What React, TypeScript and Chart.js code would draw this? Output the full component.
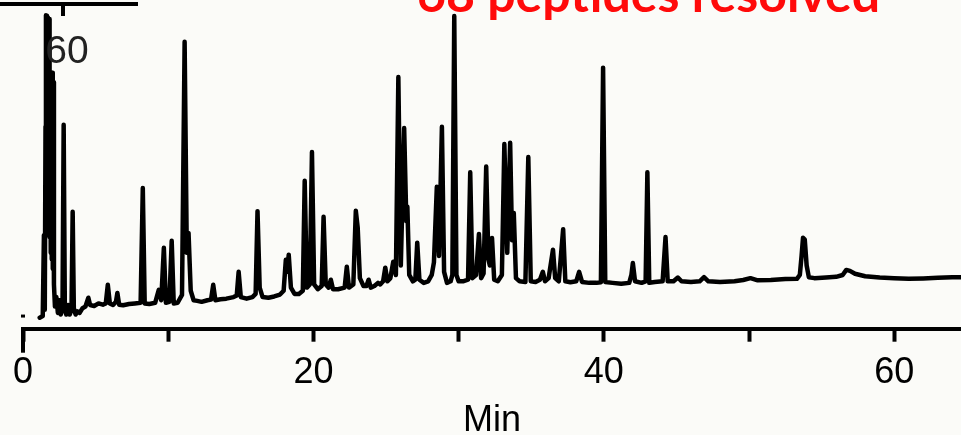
import { useEffect, useRef } from 'react';
import { Chart, registerables } from 'chart.js';

Chart.register(...registerables);

// Retention time (min) / detector signal (arbitrary units)
const traceEarly: [number, number][] = [
  [1.15, -0.5], [1.36, 0], [1.44, 25.6], [1.5, 2], [1.55, 60], [1.58, 95.2], [1.62, 40], [1.65, 95],
  [1.69, 35], [1.72, 94.5], [1.76, 30], [1.79, 94], [1.83, 25], [1.87, 77], [1.91, 20], [1.94, 76],
  [1.98, 18], [2.01, 77], [2.05, 15], [2.08, 74], [2.13, 10], [2.2, 3], [2.3, 6], [2.4, 1], [2.5, 5],
  [2.6, 0.5], [2.72, 2], [2.8, 60.5], [2.88, 3], [2.98, 0.5], [3.1, 3.5], [3.22, 0.5], [3.34, 2],
  [3.42, 33], [3.5, 2.5], [3.62, 0.5], [3.75, 1.5], [3.9, 1], [4.1, 2.5], [4.3, 3], [4.5, 5.8],
  [4.62, 3.5], [4.9, 3.2], [5.2, 4], [5.5, 3.6], [5.7, 4], [5.84, 9.9], [5.98, 4], [6.2, 3.5],
  [6.4, 4.5], [6.5, 7.3], [6.62, 3.6], [6.9, 3.4], [7.3, 3.8], [7.7, 4], [8.1, 4.2], [8.25, 40.5],
  [8.38, 4], [8.7, 3.8], [9.1, 4.2], [9.35, 8.3], [9.52, 5], [9.7, 21.6], [9.84, 4.2], [10.08, 4.5],
  [10.24, 23.8], [10.38, 4], [10.65, 4.2], [10.95, 6.7], [11.13, 86.8], [11.28, 20], [11.4, 26.3],
  [11.55, 8], [11.75, 5], [12.0, 4.8],
];

const traceMiddle: [number, number][] = [
  [12.3, 4.5], [12.7, 5], [12.95, 5.2], [13.1, 9.9], [13.25, 5], [13.6, 5.3], [14.0, 5.5], [14.5, 6],
  [14.72, 6.5], [14.85, 14], [15.0, 6], [15.4, 5.5], [15.8, 6], [16.02, 7], [16.15, 33.2], [16.3, 9],
  [16.5, 6], [16.9, 5.8], [17.3, 6.2], [17.7, 6.8], [17.95, 8], [18.1, 17.8], [18.2, 14], [18.3, 19.4],
  [18.45, 9], [18.7, 7], [19.0, 7], [19.27, 8], [19.4, 42.8], [19.55, 9], [19.75, 10], [19.9, 51.9],
  [20.05, 10], [20.3, 8.5], [20.57, 9.5], [20.7, 31.4], [20.85, 10], [21.05, 9], [21.2, 11.5],
  [21.35, 8.5], [21.7, 8.5], [22.15, 9], [22.3, 15.6], [22.45, 9], [22.75, 10], [22.92, 33.3],
  [23.05, 28], [23.2, 12], [23.45, 9.5], [23.65, 9.5], [23.8, 11.5], [23.95, 9], [24.2, 9.5],
  [24.45, 10.5], [24.6, 10], [24.8, 11], [24.95, 15.3], [25.1, 11], [25.3, 12], [25.5, 17.2],
  [25.68, 13], [25.85, 75.6], [26.02, 16], [26.25, 59.5], [26.4, 30], [26.47, 34.6], [26.6, 13],
  [26.85, 11], [27.02, 11.5], [27.15, 23.2], [27.3, 11.5], [27.6, 10.5], [27.9, 11], [28.15, 13],
  [28.3, 17], [28.5, 40.9], [28.65, 19], [28.85, 59.9], [29.0, 14], [29.2, 10.5], [29.45, 11],
  [29.57, 13], [29.7, 94.9], [29.85, 13], [30.0, 11],
];

const traceLate: [number, number][] = [
  [30.3, 11], [30.65, 11.5], [30.8, 45.5], [30.95, 12], [31.2, 13], [31.4, 26], [31.55, 12], [31.72, 13.5],
  [31.9, 47.3], [32.05, 18], [32.15, 16], [32.3, 24.7], [32.45, 11.5], [32.7, 11], [32.98, 13],
  [33.15, 54.4], [33.35, 20], [33.55, 54.8], [33.68, 24], [33.8, 32.6], [33.95, 12], [34.2, 11],
  [34.6, 10.8], [34.8, 50.3], [34.97, 11], [35.3, 10.8], [35.6, 11.5], [35.8, 14], [35.95, 11],
  [36.2, 12], [36.5, 21], [36.65, 12], [36.9, 11], [37.2, 27.5], [37.35, 11], [37.7, 10.7], [38.1, 11],
  [38.3, 14], [38.5, 10.8], [39.0, 10.5], [39.5, 10.5], [39.8, 10.7], [39.95, 78.6], [40.1, 10.8],
  [40.6, 10.5], [41.2, 10.2], [41.75, 10.5], [41.9, 13], [42.0, 16.8], [42.15, 11], [42.6, 10.5],
  [42.88, 11], [43.0, 45.5], [43.13, 10.5], [43.5, 10.8], [44.05, 11], [44.25, 25], [44.4, 11], [44.8, 11],
];

const traceTail: [number, number][] = [
  [45.1, 12.2], [45.35, 11], [46.0, 10.8], [46.6, 11], [46.9, 12.3], [47.2, 11], [48.0, 10.8], [49.0, 11],
  [49.6, 11.4], [50.1, 12], [50.6, 11.3], [51.5, 11.4], [52.5, 11.7], [53.3, 11.8], [53.5, 13],
  [53.62, 19], [53.72, 24.8], [53.84, 24.2], [53.97, 16], [54.12, 12.3], [54.5, 12], [55.3, 12.2],
  [56.0, 12.4], [56.45, 13], [56.7, 14.6], [56.95, 14.3], [57.3, 13.4], [58.0, 12.6], [59.0, 12.2],
  [60.0, 12], [61.0, 11.8], [62.0, 11.9], [63.0, 12.1], [64.0, 12.3], [64.6, 12.3],
];

const xRange = [0, 64.6];
const yRange = [-4, 100];
const labelledTicks = [0, 20, 40, 60];
const titleText = '68 peptides resolved';
const axisTitle = 'Min';
const cornerLabel = '60';

const decorations = {
  id: 'decorations',
  beforeDraw(chart: any) {
    const ctx = chart.ctx;
    ctx.save();
    ctx.fillStyle = '#fbfbf8';
    ctx.fillRect(0, 0, chart.width, chart.height);
    ctx.restore();
  },
  afterDraw(chart: any) {
    const ctx = chart.ctx;
    const xs = chart.scales.x;
    const ys = chart.scales.y;
    ctx.save();
    // longer start tick at 0
    const x0 = Math.round(xs.getPixelForValue(0));
    ctx.strokeStyle = '#000';
    ctx.lineWidth = 4;
    ctx.beginPath();
    ctx.moveTo(x0, chart.chartArea.bottom);
    ctx.lineTo(x0, chart.chartArea.bottom + 24);
    ctx.stroke();
    // zero-signal marker
    const yz = ys.getPixelForValue(0);
    ctx.lineWidth = 3;
    ctx.beginPath();
    ctx.moveTo(x0 - 2, yz);
    ctx.lineTo(x0 + 2, yz);
    ctx.stroke();
    // remnant of upper axis (top-left)
    ctx.lineWidth = 4;
    ctx.beginPath();
    ctx.moveTo(0, 4);
    ctx.lineTo(138, 4);
    ctx.moveTo(63, 4);
    ctx.lineTo(63, 16);
    ctx.stroke();
    ctx.fillStyle = '#222';
    ctx.font = '39px "Liberation Sans", Arial, sans-serif';
    ctx.textAlign = 'center';
    ctx.textBaseline = 'alphabetic';
    ctx.fillText(cornerLabel, 67, 63);
    // red headline, mostly cut off at top
    ctx.fillStyle = '#ff0a0a';
    ctx.font = 'bold 50px Lato, "Open Sans", sans-serif';
    ctx.textAlign = 'left';
    ctx.fillText(titleText, 417, 12);
    ctx.restore();
  },
};

export default function App() {
  const ref = useRef<HTMLCanvasElement | null>(null);
  useEffect(() => {
    if (!ref.current) return;
    const points = [...traceEarly, ...traceMiddle, ...traceLate, ...traceTail].map(([x, y]) => ({ x, y }));
    const chart = new Chart(ref.current, {
      type: 'line',
      data: {
        datasets: [
          {
            data: points,
            borderColor: '#000',
            borderWidth: 4.5,
            borderJoinStyle: 'round',
            borderCapStyle: 'round',
            pointRadius: 0,
            tension: 0,
            fill: false,
          },
        ],
      },
      options: {
        responsive: false,
        animation: false,
        parsing: false as any,
        layout: { padding: { left: 21, right: 0, top: 0, bottom: 0 } },
        plugins: { legend: { display: false }, tooltip: { enabled: false }, title: { display: false } },
        scales: {
          x: {
            type: 'linear',
            min: xRange[0],
            max: xRange[1],
            grid: {
              display: true,
              drawOnChartArea: false,
              drawTicks: true,
              tickLength: 13,
              tickWidth: 4,
              tickColor: '#000',
            },
            border: { display: true, color: '#000', width: 4 },
            ticks: {
              stepSize: 10,
              includeBounds: false,
              autoSkip: false,
              maxRotation: 0,
              padding: 13,
              color: '#000',
              font: { family: '"Liberation Sans", Arial, sans-serif', size: 36, lineHeight: 1 },
              callback: (v: any) => (labelledTicks.includes(Number(v)) ? String(v) : ''),
            },
            title: {
              display: true,
              text: axisTitle,
              color: '#000',
              font: { family: '"Liberation Sans", Arial, sans-serif', size: 36, lineHeight: 0.8 },
              padding: { top: 2.5, bottom: 0 },
            },
          },
          y: {
            type: 'linear',
            display: false,
            min: yRange[0],
            max: yRange[1],
          },
        },
      },
      plugins: [decorations],
    });
    return () => chart.destroy();
  }, []);
  return (
    <div style={{ position: 'absolute', left: 0, top: 0, width: 961, height: 435 }}>
      <canvas ref={ref} width={961} height={435} style={{ display: 'block' }} />
    </div>
  );
}
